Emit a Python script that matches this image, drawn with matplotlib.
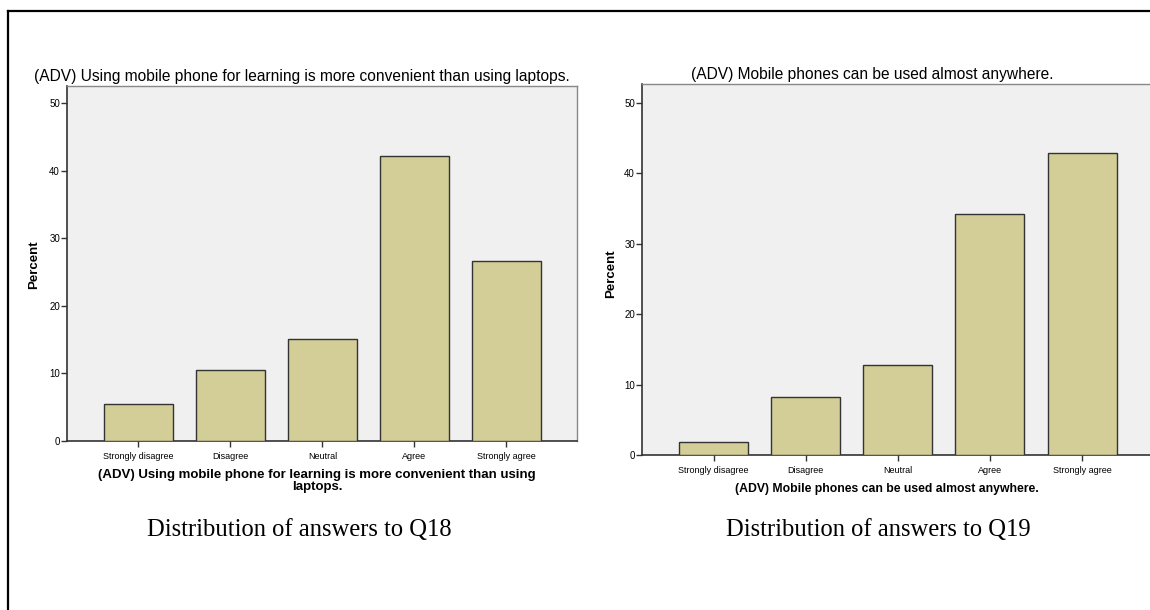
import matplotlib.pyplot as plt
from matplotlib.lines import Line2D

categories = ["Strongly disagree", "Disagree", "Neutral", "Agree", "Strongly agree"]
q18_percent = [5.5, 10.5, 15.1, 42.2, 26.6]
q19_percent = [1.9, 8.2, 12.8, 34.3, 42.9]
yticks = [0, 10, 20, 30, 40, 50]

q18_title = "(ADV) Using mobile phone for learning is more convenient than using laptops."
q18_xlabel = "(ADV) Using mobile phone for learning is more convenient than using\nlaptops."
q19_title = "(ADV) Mobile phones can be used almost anywhere."
q19_xlabel = "(ADV) Mobile phones can be used almost anywhere."
captions = ["Distribution of answers to Q18", "Distribution of answers to Q19"]

W, H = 1150, 610
plt.rcParams['font.family'] = ['Liberation Sans', 'DejaVu Sans']
fig = plt.figure(figsize=(W / 100, H / 100), dpi=100)

def px_axes(x0, y0, x1, y1):
    # pixel box (top-left origin) -> figure fraction
    return fig.add_axes([x0 / W, 1 - y1 / H, (x1 - x0) / W, (y1 - y0) / H])

def bar_panel(ax, values, ymax):
    x = range(len(categories))
    ax.set_facecolor('#f0f0f0')
    ax.bar(x, values, width=0.75, color='#d3ce97', edgecolor='#333333', linewidth=1.0, zorder=3)
    ax.set_xlim(-0.777, 4.77)
    ax.set_ylim(0, ymax)
    ax.set_xticks(list(x))
    ax.set_xticklabels(categories, fontsize=6.5)
    ax.set_yticks(yticks)
    ax.tick_params(axis='y', labelsize=7, length=4, width=1, color='#333333', pad=1)
    ax.tick_params(axis='x', length=4, width=1, color='#333333', pad=4)
    for s in ['left', 'bottom']:
        ax.spines[s].set_color('#333333')
        ax.spines[s].set_linewidth(1.2)
    for s in ['top', 'right']:
        ax.spines[s].set_color('#888888')
        ax.spines[s].set_linewidth(1.0)

ax1 = px_axes(67, 86, 577, 441)
bar_panel(ax1, q18_percent, 52.5)
ax2 = px_axes(642, 84, 1153, 455)
bar_panel(ax2, q19_percent, 52.7)

# titles, axis labels, captions placed in pixel terms
def ftext(x, y, s, **kw):
    fig.text(x / W, 1 - y / H, s, **kw)

ftext(302, 76, q18_title, fontsize=11.2, ha='center', va='center')
ftext(872, 75, q19_title, fontsize=11.2, ha='center', va='center')
ftext(34, 265, "Percent", fontsize=9.5, fontweight='bold', rotation=90, ha='center', va='center')
ftext(611, 274, "Percent", fontsize=9.5, fontweight='bold', rotation=90, ha='center', va='center')
ftext(317, 481, q18_xlabel, fontsize=9.5, fontweight='bold', ha='center', va='center', linespacing=1.0)
ftext(887, 489, q19_xlabel, fontsize=8.8, fontweight='bold', ha='center', va='center')
ftext(299, 530, captions[0], fontsize=17.7, family='Liberation Serif', ha='center', va='center')
ftext(878, 530, captions[1], fontsize=17.7, family='Liberation Serif', ha='center', va='center')

# outer frame (top and left edges)
fig.add_artist(Line2D([8 / W, 1], [1 - 11 / H, 1 - 11 / H], color='black', linewidth=1.6, transform=fig.transFigure))
fig.add_artist(Line2D([8 / W, 8 / W], [0, 1 - 11 / H], color='black', linewidth=1.6, transform=fig.transFigure))

fig.savefig('out.png', dpi=100)
